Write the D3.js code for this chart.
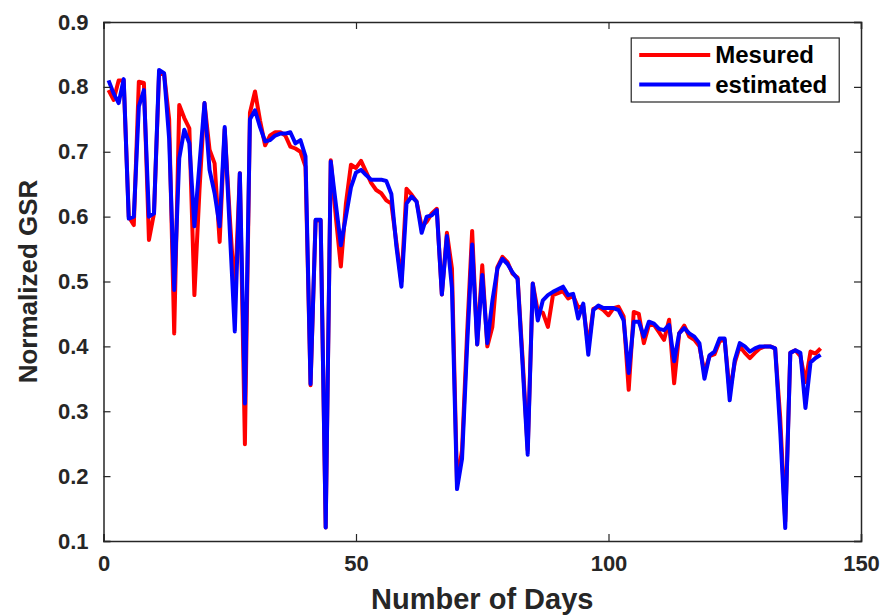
<!DOCTYPE html>
<html>
<head>
<meta charset="utf-8">
<script src="https://cdnjs.cloudflare.com/ajax/libs/d3/7.8.5/d3.min.js"></script>
<style>
	body { margin: 0; background: #fff; }
	text { font-family: "Liberation Sans", Arial, sans-serif; font-weight: bold; fill: #262626; }
</style>
</head>
<body>
<div id="chart"></div>
<script>
'use strict';

// days 1..142
var days = d3.range(1, 143);

var measured = [
	0.795, 0.78, 0.81, 0.81, 0.60, 0.587, 0.808, 0.806, 0.564, 0.605,
	0.82, 0.82, 0.75, 0.42, 0.772, 0.752, 0.736, 0.479, 0.64, 0.775,
	0.703, 0.682, 0.561, 0.735, 0.60, 0.479, 0.667, 0.249, 0.76, 0.793,
	0.748, 0.71, 0.725, 0.73, 0.73, 0.725, 0.708, 0.705, 0.70, 0.677,
	0.34, 0.594, 0.594, 0.121, 0.687, 0.60, 0.523, 0.62, 0.68, 0.675,
	0.686, 0.669, 0.652, 0.641, 0.636, 0.625, 0.62, 0.56, 0.50, 0.643,
	0.634, 0.623, 0.585, 0.592, 0.605, 0.612, 0.48, 0.575, 0.52, 0.19,
	0.24, 0.42, 0.578, 0.403, 0.525, 0.40, 0.43, 0.522, 0.538, 0.53,
	0.512, 0.506, 0.38, 0.24, 0.497, 0.454, 0.452, 0.43, 0.479, 0.482,
	0.485, 0.474, 0.478, 0.46, 0.462, 0.40, 0.458, 0.461, 0.456, 0.448,
	0.459, 0.461, 0.446, 0.333, 0.453, 0.45, 0.405, 0.433, 0.433, 0.422,
	0.41, 0.441, 0.343, 0.42, 0.432, 0.415, 0.41, 0.40, 0.36, 0.385,
	0.388, 0.408, 0.41, 0.33, 0.375, 0.40, 0.39, 0.382, 0.39, 0.397,
	0.40, 0.40, 0.397, 0.29, 0.13, 0.39, 0.394, 0.385, 0.345, 0.392,
	0.389, 0.397
];

var estimated = [
	0.81, 0.79, 0.775, 0.812, 0.597, 0.60, 0.77, 0.795, 0.60, 0.605,
	0.826, 0.821, 0.72, 0.487, 0.69, 0.734, 0.713, 0.585, 0.68, 0.775,
	0.672, 0.636, 0.585, 0.738, 0.58, 0.423, 0.667, 0.312, 0.75, 0.764,
	0.738, 0.716, 0.718, 0.725, 0.728, 0.728, 0.73, 0.713, 0.718, 0.693,
	0.342, 0.595, 0.595, 0.121, 0.685, 0.62, 0.556, 0.60, 0.645, 0.668,
	0.672, 0.664, 0.657, 0.657, 0.657, 0.655, 0.635, 0.554, 0.492, 0.62,
	0.631, 0.623, 0.575, 0.60, 0.602, 0.61, 0.48, 0.57, 0.49, 0.18,
	0.227, 0.40, 0.557, 0.403, 0.51, 0.405, 0.47, 0.52, 0.535, 0.527,
	0.514, 0.504, 0.37, 0.233, 0.497, 0.44, 0.471, 0.479, 0.484, 0.488,
	0.492, 0.479, 0.481, 0.443, 0.466, 0.387, 0.456, 0.463, 0.459, 0.459,
	0.459, 0.456, 0.44, 0.359, 0.438, 0.438, 0.415, 0.438, 0.435, 0.427,
	0.425, 0.433, 0.377, 0.42, 0.428, 0.42, 0.415, 0.405, 0.35, 0.386,
	0.392, 0.412, 0.412, 0.317, 0.379, 0.405, 0.40, 0.392, 0.397, 0.40,
	0.40, 0.40, 0.397, 0.27, 0.12, 0.39, 0.394, 0.39, 0.305, 0.375,
	0.382, 0.387
];

var xTicks = [0, 50, 100, 150];
var yTicks = [0.1, 0.2, 0.3, 0.4, 0.5, 0.6, 0.7, 0.8, 0.9];
var seriesNames = ["Mesured", "estimated"];
var seriesColors = ["#ff0000", "#0000ff"];

var width = 887, height = 615;
var margin = {top: 22, right: 26, bottom: 74, left: 103.5};
var plotW = width - margin.left - margin.right;
var plotH = height - margin.top - margin.bottom;
var axisColor = "#262626";

var svg = d3.select("#chart").append("svg")
	.attr("width", width)
	.attr("height", height);

var g = svg.append("g")
	.attr("transform", "translate(" + margin.left + "," + margin.top + ")");

var x = d3.scaleLinear().domain([0, 150]).range([0, plotW]);
var y = d3.scaleLinear().domain([0.1, 0.9]).range([plotH, 0]);

// lines, measured under estimated
var line = d3.line()
	.x(function(d, i){ return x(days[i]); })
	.y(function(d){ return y(d); });

[measured, estimated].forEach(function(series, k){
	g.append("path")
		.datum(series)
		.attr("fill", "none")
		.attr("stroke", seriesColors[k])
		.attr("stroke-width", 4)
		.attr("stroke-linejoin", "round")
		.attr("d", line);
});

// axes: ticks inside, on all four sides
var tickLen = 7;
var bottomAxis = d3.axisBottom(x).tickValues(xTicks).tickSize(-tickLen).tickPadding(14).tickFormat(d3.format("d"));
var leftAxis = d3.axisLeft(y).tickValues(yTicks).tickSize(-tickLen).tickPadding(15).tickFormat(d3.format(".1f"));

var gx = g.append("g").attr("transform", "translate(0," + plotH + ")").call(bottomAxis);
var gy = g.append("g").call(leftAxis);
var gxTop = g.append("g").call(d3.axisTop(x).tickValues(xTicks).tickSize(-tickLen).tickFormat(""));
var gyRight = g.append("g").attr("transform", "translate(" + plotW + ",0)")
	.call(d3.axisRight(y).tickValues(yTicks).tickSize(-tickLen).tickFormat(""));

[gx, gy, gxTop, gyRight].forEach(function(a){
	a.select(".domain").attr("stroke", axisColor).attr("stroke-width", 1.5);
	a.selectAll(".tick line").attr("stroke", axisColor).attr("stroke-width", 1.2);
	a.selectAll(".tick text")
		.attr("fill", axisColor)
		.style("font-size", "22px")
		.style("font-weight", "bold")
		.style("font-family", "'Liberation Sans', Arial, sans-serif");
});

// axis titles
g.append("text")
	.attr("x", plotW / 2)
	.attr("y", plotH + 68)
	.attr("text-anchor", "middle")
	.style("font-size", "29px")
	.text("Number of Days");

g.append("text")
	.attr("transform", "translate(" + (-67) + "," + (plotH / 2) + ") rotate(-90)")
	.attr("text-anchor", "middle")
	.style("font-size", "26px")
	.text("Normalized GSR");

// legend
var legend = g.append("g").attr("transform", "translate(" + (x(104.5)) + "," + 16 + ")");
legend.append("rect")
	.attr("width", 208)
	.attr("height", 64)
	.attr("fill", "#fff")
	.attr("stroke", axisColor)
	.attr("stroke-width", 1.2);

seriesNames.forEach(function(name, i){
	var ly = 17 + i * 29.5;
	legend.append("line")
		.attr("x1", 8).attr("x2", 79)
		.attr("y1", ly).attr("y2", ly)
		.attr("stroke", seriesColors[i])
		.attr("stroke-width", 4);
	legend.append("text")
		.attr("x", 84)
		.attr("y", ly + 8)
		.style("font-size", "24px")
		.style("fill", "#000")
		.text(name);
});
</script>
</body>
</html>
